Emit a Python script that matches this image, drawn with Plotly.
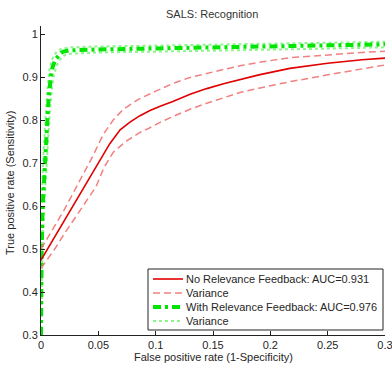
import plotly.graph_objects as go

# ---- data ----
fpr_red = [0, 0.01, 0.02, 0.03, 0.04, 0.05, 0.06, 0.069, 0.0776, 0.0863, 0.095, 0.105, 0.115,
           0.13, 0.1445, 0.16, 0.1735, 0.19, 0.217, 0.25, 0.28, 0.3]
tpr_red = [0.474, 0.519, 0.563, 0.608, 0.653, 0.698, 0.745, 0.777, 0.795, 0.81, 0.822, 0.833,
           0.843, 0.86, 0.873, 0.885, 0.894, 0.905, 0.92, 0.932, 0.94, 0.944]
fpr_red_up = [0, 0.02, 0.034, 0.045, 0.054, 0.063, 0.0718, 0.0849, 0.1, 0.115, 0.13, 0.1445,
              0.16, 0.1735, 0.19, 0.217, 0.25, 0.28, 0.3]
tpr_red_up = [0.50, 0.59, 0.66, 0.715, 0.765, 0.80, 0.825, 0.848, 0.867, 0.885, 0.899, 0.909,
              0.918, 0.926, 0.934, 0.945, 0.952, 0.957, 0.96]
fpr_red_lo = [0, 0.012, 0.02, 0.0384, 0.048, 0.055, 0.063, 0.075, 0.0863, 0.095, 0.105, 0.115,
              0.13, 0.1445, 0.16, 0.1735, 0.19, 0.217, 0.25, 0.28, 0.3]
tpr_red_lo = [0.455, 0.50, 0.534, 0.607, 0.645, 0.69, 0.725, 0.752, 0.771, 0.782, 0.796, 0.808,
              0.825, 0.839, 0.853, 0.864, 0.874, 0.889, 0.905, 0.919, 0.928]

fpr_grn = [0, 0.0002, 0.0006, 0.0015, 0.0032, 0.0052, 0.0064, 0.0085, 0.0102, 0.0125, 0.015,
           0.0175, 0.0195, 0.025, 0.05, 0.1, 0.15, 0.2, 0.25, 0.3]
tpr_grn = [0.3, 0.4, 0.5, 0.6, 0.7, 0.8, 0.84, 0.9, 0.924, 0.94, 0.95,
           0.956, 0.959, 0.962, 0.964, 0.966, 0.968, 0.970, 0.973, 0.976]
fpr_grn_up = [0, 0.0001, 0.0003, 0.0009, 0.0023, 0.0042, 0.0054, 0.0074, 0.009, 0.011, 0.0135,
              0.016, 0.018, 0.025, 0.05, 0.1, 0.15, 0.2, 0.25, 0.3]
tpr_grn_up = [0.3, 0.42, 0.53, 0.63, 0.73, 0.83, 0.865, 0.918, 0.937, 0.949, 0.958,
              0.963, 0.966, 0.969, 0.971, 0.973, 0.975, 0.977, 0.980, 0.982]
fpr_grn_lo = [0.0003, 0.0006, 0.0011, 0.0022, 0.0042, 0.0063, 0.0076, 0.0098, 0.0115, 0.014,
              0.0165, 0.019, 0.021, 0.026, 0.05, 0.1, 0.15, 0.2, 0.25, 0.3]
tpr_grn_lo = [0.3, 0.38, 0.47, 0.57, 0.67, 0.77, 0.815, 0.882, 0.908, 0.928, 0.94,
              0.947, 0.951, 0.954, 0.957, 0.959, 0.961, 0.963, 0.966, 0.969]

x_ticks = [0, 0.05, 0.1, 0.15, 0.2, 0.25, 0.3]
x_labels = ["0", "0.05", "0.1", "0.15", "0.2", "0.25", "0.3"]
y_ticks = [0.3, 0.4, 0.5, 0.6, 0.7, 0.8, 0.9, 1.0]
y_labels = ["0.3", "0.4", "0.5", "0.6", "0.7", "0.8", "0.9", "1"]

legend_names = ["No Relevance Feedback: AUC=0.931", "Variance",
                "With Relevance Feedback: AUC=0.976", "Variance"]

RED = "#e00000"
LRED = "#f28080"
GRN = "#00e600"
LGRN = "#8cf58c"

W, H = 392, 366
ML, MR, MT, MB = 41, 7, 26, 31
PW, PH = W - ML - MR, H - MT - MB


def px(x):
    return (x - ML) / PW


def py(y):
    return (H - MB - y) / PH


styles = [
    dict(color=RED, width=1.6),
    dict(color=LRED, width=1.5, dash="7px,4px"),
    dict(color=GRN, width=4, dash="8px,4px,3px,4px"),
    dict(color=LGRN, width=2, dash="dot"),
]

fig = go.Figure()
fig.add_trace(go.Scatter(x=fpr_grn_up, y=tpr_grn_up, mode="lines", line=styles[3],
                         name=legend_names[3]))
fig.add_trace(go.Scatter(x=fpr_grn_lo, y=tpr_grn_lo, mode="lines", line=styles[3],
                         name=legend_names[3]))
fig.add_trace(go.Scatter(x=fpr_grn, y=tpr_grn, mode="lines", line=styles[2],
                         name=legend_names[2]))
fig.add_trace(go.Scatter(x=fpr_red_up, y=tpr_red_up, mode="lines", line=styles[1],
                         name=legend_names[1]))
fig.add_trace(go.Scatter(x=fpr_red_lo, y=tpr_red_lo, mode="lines", line=styles[1],
                         name=legend_names[1]))
fig.add_trace(go.Scatter(x=fpr_red, y=tpr_red, mode="lines", line=styles[0],
                         name=legend_names[0]))

TXT = "#262626"
FAM = "Liberation Sans, Arial, sans-serif"

shapes = []
annotations = []
# legend box (Matlab style)
shapes.append(dict(type="rect", xref="paper", yref="paper",
                   x0=px(148), x1=px(383), y0=py(330), y1=py(269),
                   line=dict(color="#222", width=1), fillcolor="white", layer="above"))
row_y = [279, 293, 307, 321]
for i, (name, st) in enumerate(zip(legend_names, styles)):
    shapes.append(dict(type="line", xref="paper", yref="paper",
                       x0=px(153), x1=px(183), y0=py(row_y[i]), y1=py(row_y[i]),
                       line=st, layer="above"))
    annotations.append(dict(text=name, xref="paper", yref="paper", x=px(184), y=py(row_y[i]),
                            xanchor="left", yanchor="middle", showarrow=False,
                            font=dict(family=FAM, size=11, color=TXT)))

annotations.append(dict(text="SALS: Recognition", xref="paper", yref="paper",
                        x=px(212), y=py(14), xanchor="center", yanchor="middle",
                        showarrow=False, font=dict(family=FAM, size=11, color="#333")))
annotations.append(dict(text="False positive rate (1-Specificity)", xref="paper", yref="paper",
                        x=px(213), y=py(357), xanchor="center", yanchor="middle",
                        showarrow=False, font=dict(family=FAM, size=11, color=TXT)))
annotations.append(dict(text="True positive rate (Sensitivity)", xref="paper", yref="paper",
                        x=px(10), y=py(183), xanchor="center", yanchor="middle",
                        textangle=-90, showarrow=False,
                        font=dict(family=FAM, size=11, color=TXT)))

fig.update_layout(
    width=W, height=H,
    margin=dict(l=ML, r=MR, t=MT, b=MB),
    paper_bgcolor="white", plot_bgcolor="white",
    font=dict(family=FAM, size=11, color=TXT),
    showlegend=False,
    shapes=shapes, annotations=annotations,
    xaxis=dict(range=[0, 0.3], tickvals=x_ticks, ticktext=x_labels, automargin=False,
               ticklabeloverflow="allow",
               showgrid=False, zeroline=False, showline=True, linecolor="#222",
               linewidth=1, ticks="inside", ticklen=4, tickcolor="#222"),
    yaxis=dict(range=[0.3, 1.0186], tickvals=y_ticks, ticktext=y_labels, automargin=False,
               ticklabeloverflow="allow",
               showgrid=False, zeroline=False, showline=True, linecolor="#222",
               linewidth=1, ticks="inside", ticklen=4, tickcolor="#222"),
)
fig.write_html("out.html", config={"displayModeBar": False},
               post_script="document.body.style.margin='0';document.body.style.padding='0';")
